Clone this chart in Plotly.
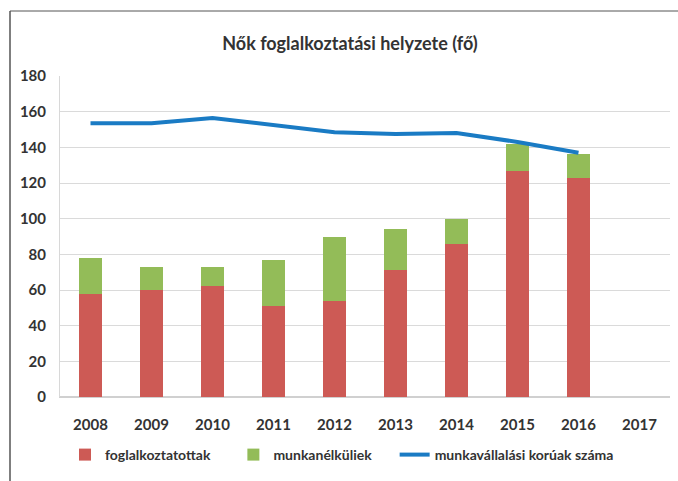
import plotly.graph_objects as go

years = ["2008", "2009", "2010", "2011", "2012", "2013", "2014", "2015", "2016", "2017"]
foglalkoztatottak = [58, 60, 62, 51, 54, 71, 86, 127, 123, None]
munkanelkuliek = [20, 13, 11, 26, 36, 23, 14, 15, 13, None]
korosztaly_years = ["2008", "2009", "2010", "2011", "2012", "2013", "2014", "2015", "2016"]
munkavallalasi_koruak = [153.5, 153.5, 156.5, 152.5, 148.5, 147.5, 148, 143, 137]
y_ticks = [0, 20, 40, 60, 80, 100, 120, 140, 160, 180]

FONT = "Lato, Roboto, sans-serif"
TXT = "#333333"
RED = "#CD5A55"
GREEN = "#93BC58"
BLUE = "#1A7BC4"
PAD = "\u00a0" * 5

fig = go.Figure()
fig.add_trace(go.Bar(x=years, y=foglalkoztatottak, name="<b>foglalkoztatottak</b>" + PAD,
                     marker=dict(color=RED, line=dict(width=0))))
fig.add_trace(go.Bar(x=years, y=munkanelkuliek, name="<b>munkanélküliek</b>" + PAD,
                     marker=dict(color=GREEN, line=dict(width=0))))
fig.add_trace(go.Scatter(x=korosztaly_years, y=munkavallalasi_koruak, mode="lines",
                         name="<b>munkavállalási korúak száma</b>",
                         line=dict(color=BLUE, width=4)))

fig.update_layout(
    width=678, height=481,
    barmode="stack", bargap=0.61,
    paper_bgcolor="white", plot_bgcolor="white",
    margin=dict(l=60, r=8, t=76, b=84, autoexpand=False),
    font=dict(family=FONT, size=14, color=TXT),
    title=dict(text="<b>Nők foglalkoztatási helyzete (fő)</b>", x=350 / 678, xanchor="center",
               y=1 - 44 / 481, yanchor="middle",
               font=dict(family=FONT, size=18, color=TXT)),
    showlegend=True,
    legend=dict(orientation="h", x=5 / 610, xanchor="left", y=-58 / 321, yanchor="middle",
                font=dict(family=FONT, size=14, color=TXT),
                itemwidth=30, traceorder="normal", bgcolor="rgba(0,0,0,0)"),
    xaxis=dict(type="category", categoryorder="array", categoryarray=years,
               showgrid=False, showline=True, linecolor="#D0D0D0", linewidth=1,
               ticks="", ticklabelstandoff=14,
               tickfont=dict(family=FONT, size=15, color=TXT, weight="bold")),
    yaxis=dict(range=[0, 180], tickvals=y_ticks, showgrid=True, gridcolor="#DADADA",
               gridwidth=1, zeroline=True, zerolinecolor="#D0D0D0",
               showline=True, linecolor="#D8D8D8", linewidth=1,
               ticks="", ticklabelstandoff=10,
               tickfont=dict(family=FONT, size=15, color=TXT, weight="bold")),
    shapes=[
        dict(type="line", xref="paper", yref="paper", x0=-50 / 610, x1=1.02,
             y0=1 + 65 / 321, y1=1 + 65 / 321, line=dict(color="#555555", width=1)),
        dict(type="line", xref="paper", yref="paper", x0=-50 / 610, x1=-50 / 610,
             y0=1 + 65 / 321, y1=-84 / 321, line=dict(color="#555555", width=1.5)),
    ],
)

fig.write_html("out.html", config={"displayModeBar": False},
               post_script="document.body.style.margin='0';")
